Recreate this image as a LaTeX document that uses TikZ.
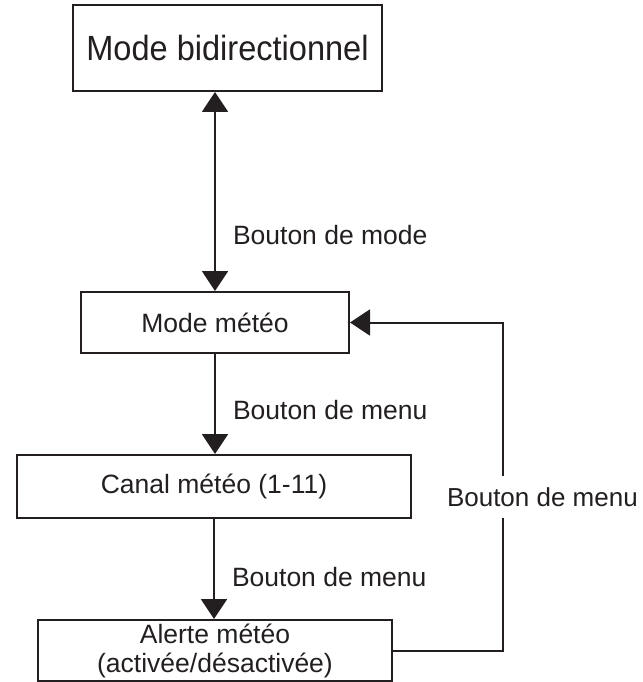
\documentclass[tikz,border=0pt]{standalone}
\usepackage{fontspec}
\setmainfont{Liberation Sans}
\usetikzlibrary{arrows.meta,positioning}
\definecolor{ink}{RGB}{35,31,32}
\tikzset{etat/.style={draw=ink,line width=2pt,inner sep=0pt,align=center,text=ink},
 lbl/.style={text=ink,inner sep=0pt}}
\begin{document}
\begin{tikzpicture}[x=1pt,y=-1pt,font=\fontsize{26.5}{29}\selectfont,>={Triangle[length=20pt,width=26pt]},line width=2pt,draw=ink]
\useasboundingbox (0,0) rectangle (642,682);
% boxes
\node[etat,minimum width=309pt,minimum height=86pt,font=\fontsize{35}{40}\selectfont\addfontfeature{FakeStretch=0.93}](bidir) at (227.5,48){Mode bidirectionnel};
\node[etat,minimum width=268pt,minimum height=61pt](meteo) at (215,322.5){Mode météo};
\node[etat,minimum width=394pt,minimum height=63pt](canal) at (214,486.5){Canal météo (1-11)};
\node[etat,minimum width=354pt,minimum height=61pt](alerte) at (215,650.5){Alerte météo\\(activée/désactivée)};
% arrows
\draw[<->](meteo.north)--node[lbl,right=17pt,pos=0.28]{Bouton de mode}(meteo.north|-bidir.south);
\draw[->](meteo.south)--node[lbl,right=17pt,pos=0.56]{Bouton de menu}(meteo.south|-canal.north);
\draw[->](canal.south)--node[lbl,right=17pt,pos=0.58]{Bouton de menu}(canal.south|-alerte.north);
\draw[->](alerte.east)--++(110,0)|-node[lbl,pos=0.234,anchor=west,xshift=-59pt,fill=white,inner ysep=11pt,inner xsep=2pt,font=\fontsize{26}{29}\selectfont]{Bouton de menu}(meteo.east);
\end{tikzpicture}
\end{document}
